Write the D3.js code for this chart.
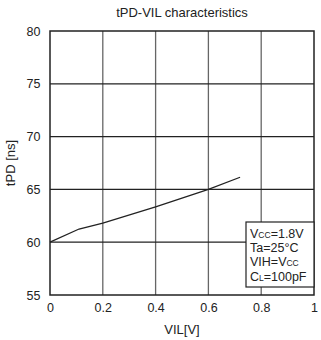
<!DOCTYPE html>
<html>
<head>
<meta charset="utf-8">
<script src="https://cdn.jsdelivr.net/npm/d3@7"></script>
<style>
  body { margin: 0; background: #fff; }
  text { font-family: "Liberation Sans", Arial, sans-serif; fill: #222; }
</style>
</head>
<body>
<script>
// curve
const vil = [0, 0.11, 0.2, 0.4, 0.6, 0.72];
const tpd = [60.0, 61.25, 61.8, 63.35, 65.0, 66.15];
const xTicks = [0, 0.2, 0.4, 0.6, 0.8, 1];
const yTicks = [55, 60, 65, 70, 75, 80];

const margin = {top: 31, right: 7, bottom: 45, left: 50},
    width = 321 - margin.left - margin.right,
    height = 340 - margin.top - margin.bottom;

const svg = d3.select("body")
    .append("svg")
    .attr("width", 321)
    .attr("height", 340)
    .append("g")
    .attr("transform", `translate(${margin.left}, ${margin.top})`);

const x = d3.scaleLinear().domain([0, 1]).range([0, width]);
const y = d3.scaleLinear().domain([55, 80]).range([height, 0]);

// grid
svg.selectAll("vgrid")
  .data(xTicks.slice(1, -1))
  .join("line")
  .attr("x1", d => x(d)).attr("x2", d => x(d))
  .attr("y1", 0).attr("y2", height)
  .attr("stroke", "#666").attr("stroke-width", 1.3);

svg.selectAll("hgrid")
  .data(yTicks.slice(1, -1))
  .join("line")
  .attr("x1", 0).attr("x2", width)
  .attr("y1", d => y(d)).attr("y2", d => y(d))
  .attr("stroke", "#222").attr("stroke-width", 1.2);

// axes labels only
svg.append("g")
  .attr("transform", `translate(0, ${height})`)
  .call(d3.axisBottom(x).tickValues(xTicks).tickSize(0).tickPadding(8.5).tickFormat(d3.format("")))
  .call(g => g.select(".domain").remove())
  .selectAll("text")
  .style("font-size", "12.5px")
  .attr("font-family", null);

svg.append("g")
  .call(d3.axisLeft(y).tickValues(yTicks).tickSize(0).tickPadding(9.5))
  .call(g => g.select(".domain").remove())
  .selectAll("text")
  .style("font-size", "12.5px")
  .attr("font-family", null);

// curve
const line = d3.line()
  .x((d, i) => x(vil[i]))
  .y(d => y(d));

svg.append("path")
  .datum(tpd)
  .attr("d", line)
  .attr("fill", "none")
  .attr("stroke", "#222")
  .attr("stroke-width", 1.3);

// frame
svg.append("rect")
  .attr("width", width).attr("height", height)
  .attr("fill", "none")
  .attr("stroke", "#222").attr("stroke-width", 1.5);

// conditions box
const box = svg.append("g").attr("transform", `translate(${width - 68}, ${height - 73})`);
box.append("rect")
  .attr("width", 68).attr("height", 65)
  .attr("fill", "#fff").attr("stroke", "#222").attr("stroke-width", 1.2);

const conds = [
  [["V", 12.5], ["CC", 8.5], ["=1.8V", 12.5]],
  [["Ta=25°C", 12.5]],
  [["VIH=V", 12.5], ["CC", 8.5]],
  [["C", 12.5], ["L", 8.5], ["=100pF", 12.5]]
];
conds.forEach((parts, i) => {
  const t = box.append("text")
    .attr("x", 4)
    .attr("y", 15.5 + i * 14.4);
  parts.forEach(p => t.append("tspan").style("font-size", p[1] + "px").text(p[0]));
});

// titles
svg.append("text")
  .attr("x", width / 2)
  .attr("y", -14.5)
  .attr("text-anchor", "middle")
  .style("font-size", "13px")
  .text("tPD-VIL characteristics");

svg.append("text")
  .attr("x", width / 2)
  .attr("y", height + 38.5)
  .attr("text-anchor", "middle")
  .style("font-size", "13px")
  .text("VIL[V]");

svg.append("text")
  .attr("transform", `translate(-35, ${y(67.5)}) rotate(-90)`)
  .attr("text-anchor", "middle")
  .style("font-size", "13px")
  .text("tPD [ns]");
</script>
</body>
</html>
